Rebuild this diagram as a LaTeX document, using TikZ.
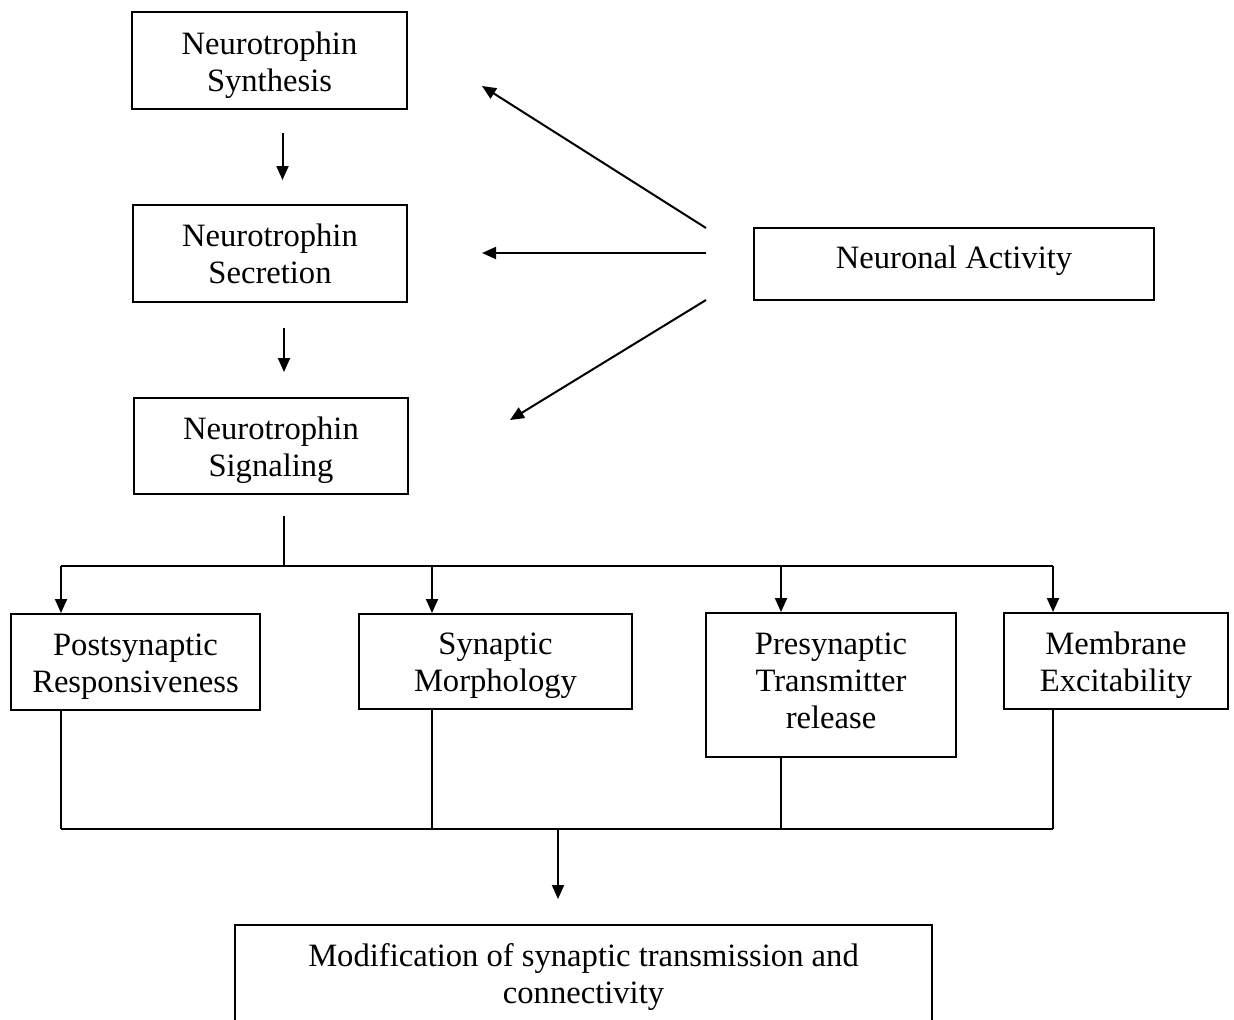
\documentclass[tikz,border=0pt]{standalone}
\usepackage{fontspec}
\setmainfont{Liberation Serif}
\usetikzlibrary{arrows.meta}
\begin{document}
\begin{tikzpicture}[x=0.5pt,y=-0.5pt,
  box/.style={draw,line width=1pt,inner sep=0pt},
  txt/.style={align=center,inner sep=0pt,font=\fontsize{16.3pt}{18.5pt}\selectfont},
  conn/.style={line width=1pt},
  arr/.style={line width=1pt,-{Triangle[length=7pt,width=6pt]}}]
\useasboundingbox (0,0) rectangle (1234,1019);
\clip (0,0) rectangle (1234,1019);
\fill[white] (0,0) rectangle (1234,1019);
% top column
\node[box,minimum width=137.5pt,minimum height=48.5pt,
  label={[txt,yshift=-2.25pt]center:{Neurotrophin\\Synthesis}}] (syn) at (269.5,60.5) {};
\node[box,minimum width=137pt,minimum height=48.5pt,
  label={[txt]center:{Neurotrophin\\Secretion}}] (sec) at (270,253.5) {};
\node[box,minimum width=137pt,minimum height=48pt,
  label={[txt,yshift=-2pt]center:{Neurotrophin\\Signaling}}] (sig) at (271,446) {};
\node[box,minimum width=200pt,minimum height=36pt,
  label={[txt,yshift=1.5pt]center:{Neuronal Activity}}] (na) at (954,264) {};
% middle row
\node[box,minimum width=124.5pt,minimum height=48pt,
  label={[txt,yshift=-2.5pt]center:{Postsynaptic\\Responsiveness}}] (post) at (135.5,662) {};
\node[box,minimum width=136.5pt,minimum height=47.5pt,
  label={[txt,yshift=-2.25pt]center:{Synaptic\\Morphology}}] (morph) at (495.5,661.5) {};
\node[box,minimum width=125pt,minimum height=72pt,
  label={[txt,yshift=2pt]center:{Presynaptic\\Transmitter\\release}}] (pre) at (831,685) {};
\node[box,minimum width=112pt,minimum height=48pt,
  label={[txt,yshift=-2pt]center:{Membrane\\Excitability}}] (mem) at (1116,661) {};
% bottom
\node[box,minimum width=348.5pt,minimum height=49pt,
  label={[txt,yshift=-1.75pt]center:{Modification of synaptic transmission and\\connectivity}}] (mod) at (583.5,974) {};
% vertical arrows top
\draw[arr,shorten <=11.5pt,shorten >=12pt] ([xshift=6.5pt]syn.south) -- ([xshift=6.5pt]syn.south |- sec.north);
\draw[arr,shorten <=12.5pt,shorten >=12.5pt] ([xshift=7pt]sec.south) -- ([xshift=7pt]sec.south |- sig.north);
% neuronal activity arrows
\coordinate (n1) at (706,228);
\coordinate (n2) at (706,253);
\coordinate (n3) at (706,300);
\coordinate (e1) at (482,86);
\coordinate (e2) at (482,253);
\coordinate (e3) at (510,420);
\draw[arr] (n1) -- (e1);
\draw[arr] (n2) -- (e2);
\draw[arr] (n3) -- (e3);
% distribution
\coordinate (s0) at (284,516);
\coordinate (hub) at (284,566);
\coordinate (b1) at (61,566);
\coordinate (b2) at (432,566);
\coordinate (b3) at (781,566);
\coordinate (b4) at (1053,566);
\draw[conn] (s0) -- (hub);
\draw[conn] (b1) -- (b4);
\draw[arr] (b1) -- (b1 |- post.north);
\draw[arr] (b2) -- (b2 |- morph.north);
\draw[arr] (b3) -- (b3 |- pre.north);
\draw[arr] (b4) -- (b4 |- mem.north);
% collection
\coordinate (j1) at (61,829);
\coordinate (j2) at (432,829);
\coordinate (j3) at (781,829);
\coordinate (j4) at (1053,829);
\coordinate (jm) at (558,829);
\draw[conn] (b1 |- post.south) -- (j1);
\draw[conn] (b2 |- morph.south) -- (j2);
\draw[conn] (b3 |- pre.south) -- (j3);
\draw[conn] (b4 |- mem.south) -- (j4);
\draw[conn] (j1) -- (j4);
\draw[arr,shorten >=12.5pt] (jm) -- (jm |- mod.north);
\end{tikzpicture}
\end{document}
